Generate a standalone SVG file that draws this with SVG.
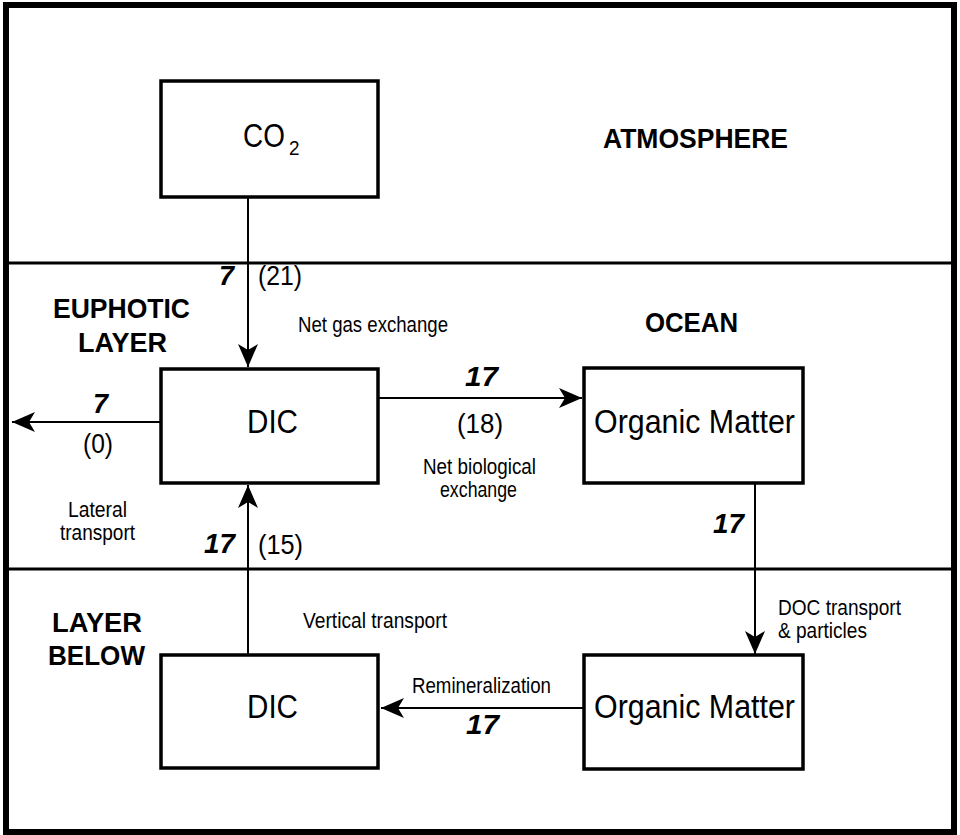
<svg xmlns="http://www.w3.org/2000/svg" width="960" height="835" viewBox="0 0 960 835">
<defs>
<style>
text{font-family:"Liberation Sans",Arial,Helvetica,sans-serif;fill:#000}
.box{fill:#fff;stroke:#000;stroke-width:3.5}
.big{font-size:34px}
.hdr{font-size:27px;font-weight:bold}
.num{font-size:27px;font-weight:bold;font-style:italic}
.par{font-size:27px}
.sm{font-size:22px}
.conn{stroke:#000;stroke-width:2;fill:none;marker-end:url(#ah)}
.div{stroke:#000;stroke-width:3}
</style>
<marker id="ah" markerUnits="userSpaceOnUse" markerWidth="26" markerHeight="22" refX="24" refY="11" orient="auto">
<path d="M24,11 L1,1 L7,11 L1,21 Z" fill="#000"/>
</marker>
</defs>
<rect x="0" y="0" width="960" height="835" fill="#fff"/>
<rect x="6" y="5" width="948" height="827" fill="none" stroke="#000" stroke-width="6"/>
<g id="dividers">
<line class="div" x1="9" y1="263" x2="951" y2="263"/>
<line class="div" x1="9" y1="569" x2="951" y2="569"/>
</g>
<g id="labels">
<text class="hdr" x="603" y="148" textLength="185" lengthAdjust="spacingAndGlyphs">ATMOSPHERE</text>
<text class="hdr" x="645" y="332" textLength="93" lengthAdjust="spacingAndGlyphs">OCEAN</text>
<text class="hdr" x="53" y="318" textLength="137" lengthAdjust="spacingAndGlyphs">EUPHOTIC</text>
<text class="hdr" x="78" y="352" textLength="89" lengthAdjust="spacingAndGlyphs">LAYER</text>
<text class="hdr" x="52" y="632" textLength="90" lengthAdjust="spacingAndGlyphs">LAYER</text>
<text class="hdr" x="48" y="665" textLength="97" lengthAdjust="spacingAndGlyphs">BELOW</text>
</g>
<g id="co2">
<rect class="box" x="161" y="81" width="217" height="116"/>
<text class="big" transform="translate(243 147) scale(0.82 1)">CO</text>
<text x="289" y="155" style="font-size:21px" transform="translate(289 0) scale(0.9 1) translate(-289 0)">2</text>
</g>
<g id="dic-upper">
<rect class="box" x="161" y="369" width="217" height="114"/>
<text class="big" x="247" y="433" textLength="51" lengthAdjust="spacingAndGlyphs">DIC</text>
</g>
<g id="om-upper">
<rect class="box" x="584" y="368" width="219" height="115"/>
<text class="big" x="594" y="433" textLength="201" lengthAdjust="spacingAndGlyphs">Organic Matter</text>
</g>
<g id="dic-lower">
<rect class="box" x="161" y="655" width="217" height="113"/>
<text class="big" x="247" y="718" textLength="51" lengthAdjust="spacingAndGlyphs">DIC</text>
</g>
<g id="om-lower">
<rect class="box" x="584" y="655" width="219" height="114"/>
<text class="big" x="594" y="718" textLength="201" lengthAdjust="spacingAndGlyphs">Organic Matter</text>
</g>
<g id="connectors">
<line class="conn" x1="248" y1="197" x2="248" y2="367"/>
<line class="conn" x1="161" y1="422" x2="12" y2="422"/>
<line class="conn" x1="378" y1="398" x2="582" y2="398"/>
<line class="conn" x1="248" y1="655" x2="248" y2="485"/>
<line class="conn" x1="755" y1="483" x2="755" y2="654"/>
<line class="conn" x1="584" y1="708" x2="381" y2="708"/>
</g>
<g id="connector-labels">
<text class="num" x="219" y="285">7</text>
<text class="par" x="258" y="285" textLength="44" lengthAdjust="spacingAndGlyphs">(21)</text>
<text class="sm" x="298" y="332" textLength="150" lengthAdjust="spacingAndGlyphs">Net gas exchange</text>
<text class="num" x="93" y="413">7</text>
<text class="par" x="83" y="453" textLength="30" lengthAdjust="spacingAndGlyphs">(0)</text>
<text class="sm" x="68" y="517" textLength="59" lengthAdjust="spacingAndGlyphs">Lateral</text>
<text class="sm" x="60" y="540" textLength="75" lengthAdjust="spacingAndGlyphs">transport</text>
<text class="num" x="465" y="386" textLength="33" lengthAdjust="spacingAndGlyphs">17</text>
<text class="par" x="457" y="433" textLength="46" lengthAdjust="spacingAndGlyphs">(18)</text>
<text class="sm" x="423" y="474" textLength="113" lengthAdjust="spacingAndGlyphs">Net biological</text>
<text class="sm" x="440" y="497" textLength="77" lengthAdjust="spacingAndGlyphs">exchange</text>
<text class="num" x="204" y="553" textLength="31" lengthAdjust="spacingAndGlyphs">17</text>
<text class="par" x="258" y="554" textLength="45" lengthAdjust="spacingAndGlyphs">(15)</text>
<text class="num" x="713" y="533" textLength="31" lengthAdjust="spacingAndGlyphs">17</text>
<text class="sm" x="778" y="615" textLength="123" lengthAdjust="spacingAndGlyphs">DOC transport</text>
<text class="sm" x="778" y="638" textLength="89" lengthAdjust="spacingAndGlyphs">&amp; particles</text>
<text class="sm" x="303" y="628" textLength="144" lengthAdjust="spacingAndGlyphs">Vertical transport</text>
<text class="sm" x="412" y="693" textLength="139" lengthAdjust="spacingAndGlyphs">Remineralization</text>
<text class="num" x="466" y="734" textLength="33" lengthAdjust="spacingAndGlyphs">17</text>
</g>
</svg>
